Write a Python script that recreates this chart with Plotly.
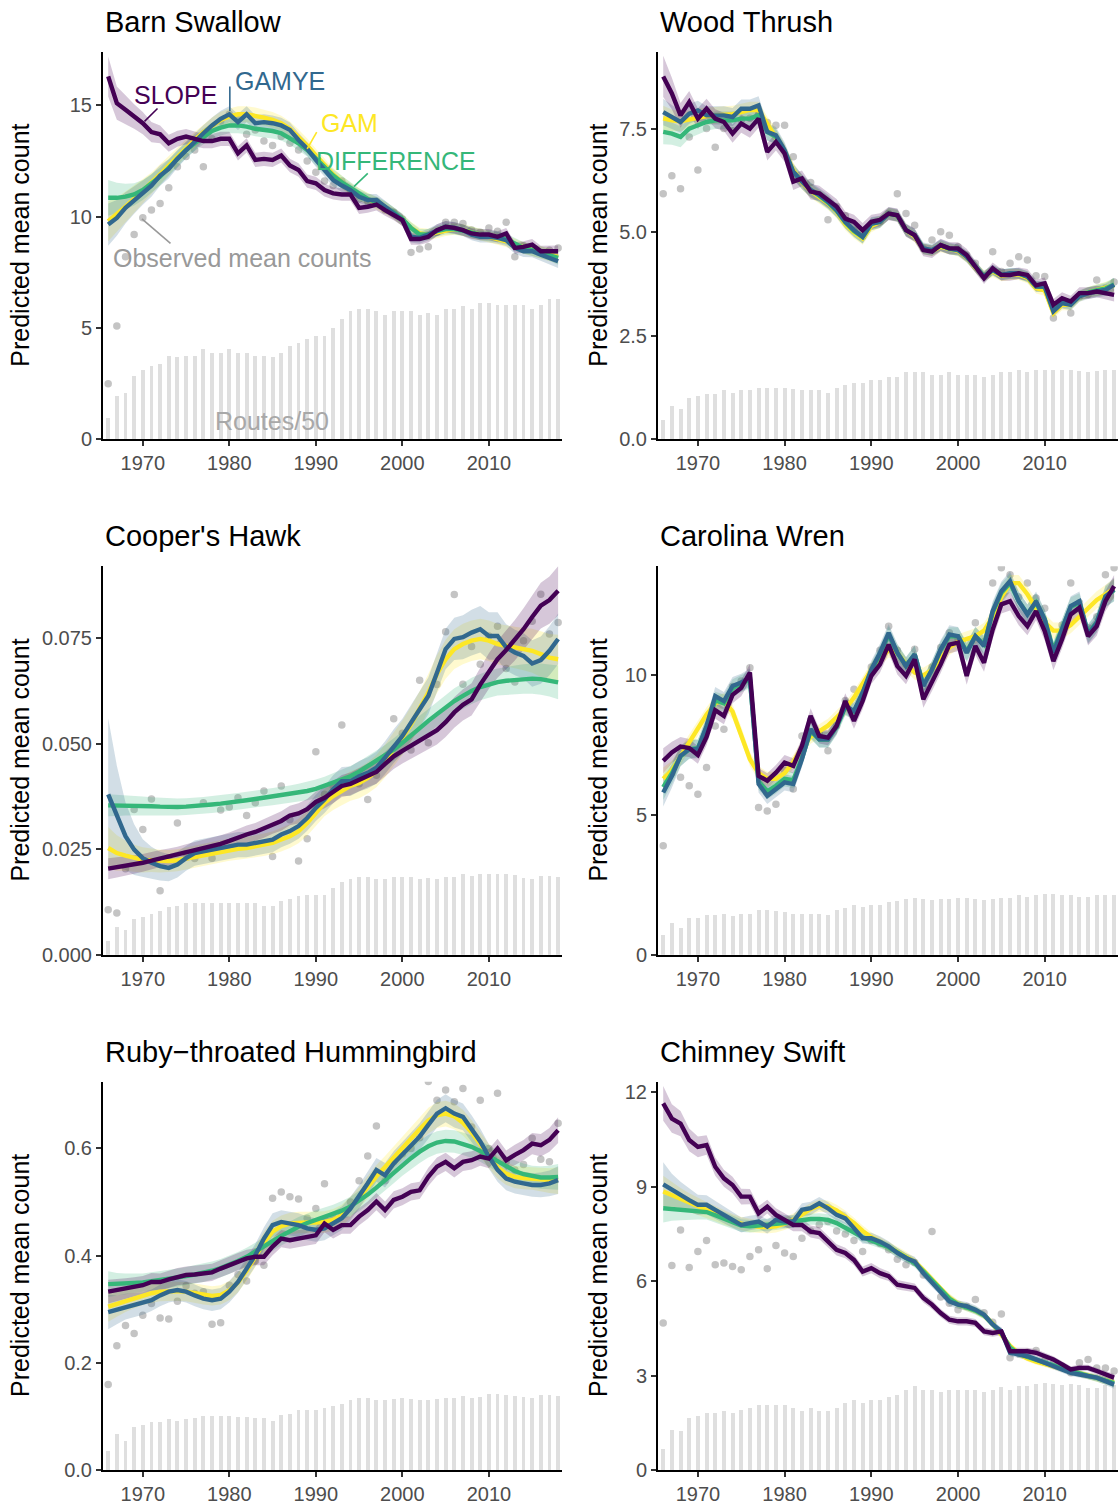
import plotly.graph_objects as go

YEARS = list(range(1966, 2019))

# ---------------- Barn Swallow ----------------
BS_SLOPE = [16.3, 15.1, 14.8, 14.5, 14.2, 13.8, 13.7, 13.3, 13.5, 13.6,
            13.5, 13.4, 13.4, 13.5, 13.5, 12.85, 13.2, 12.55, 12.6, 12.55,
            12.75, 12.3, 12.1, 11.6, 11.5, 11.2, 11.05, 11.0, 11.0, 10.4,
            10.45, 10.55, 10.3, 10.1, 9.85, 9.0, 9.0, 9.1, 9.4, 9.55,
            9.5, 9.4, 9.25, 9.2, 9.2, 9.1, 9.25, 8.6, 8.65, 8.75,
            8.45, 8.45, 8.45]
BS_GAMYE = [9.65, 9.95, 10.4, 10.75, 11.1, 11.4, 11.85, 12.15, 12.6, 13.0,
            13.35, 13.75, 14.1, 14.4, 14.6, 14.25, 14.6, 14.2, 14.25, 14.2,
            14.1, 13.9, 13.45, 13.05, 12.55, 12.1, 11.65, 11.4, 11.2, 10.9,
            10.75, 10.75, 10.45, 10.15, 9.85, 9.1, 9.05, 9.2, 9.4, 9.55,
            9.5, 9.4, 9.2, 9.1, 9.1, 9.05, 8.95, 8.6, 8.45, 8.45,
            8.3, 8.15, 8.0]
BS_GAM = [9.8, 10.1, 10.45, 10.8, 11.15, 11.5, 11.9, 12.3, 12.7, 13.1,
          13.45, 13.8, 14.1, 14.35, 14.5, 14.6, 14.6, 14.55, 14.45, 14.35,
          14.2, 13.95, 13.6, 13.2, 12.75, 12.3, 11.9, 11.55, 11.25, 11.0,
          10.8, 10.6, 10.4, 10.15, 9.85, 9.5, 9.25, 9.2, 9.3, 9.4,
          9.45, 9.4, 9.3, 9.2, 9.1, 9.0, 8.9, 8.75, 8.6, 8.5,
          8.4, 8.3, 8.2]
BS_DIFF = [10.85, 10.85, 10.9, 11.0, 11.2, 11.5, 11.8, 12.2, 12.6, 13.0,
           13.3, 13.6, 13.85, 14.0, 14.1, 14.1, 14.05, 13.95, 13.9, 13.85,
           13.75, 13.55, 13.3, 13.0, 12.6, 12.2, 11.85, 11.55, 11.3, 11.0,
           10.8, 10.65, 10.45, 10.2, 9.9, 9.5, 9.2, 9.2, 9.35, 9.45,
           9.45, 9.4, 9.3, 9.2, 9.15, 9.1, 9.0, 8.8, 8.6, 8.5,
           8.4, 8.3, 8.15]
BS_OBS = [2.5, 5.1, 8.2, 9.2, 9.95, 10.3, 10.6, 11.3, 12.25, 12.7,
          13.0, 12.25, 13.5, 14.3, 14.6, 14.4, 13.7, 13.9, 13.4, 13.2,
          13.6, 13.3, 13.0, 12.5, 12.0, 11.6, 11.4, 11.6, 11.2, 10.8,
          10.7, 10.7, 10.3, 10.2, 9.9, 8.4, 8.55, 8.65, 9.3, 9.75,
          9.75, 9.7, 9.4, 9.3, 9.5, 9.35, 9.75, 8.2, 8.7, 8.6,
          8.4, 8.5, 8.6]
BS_ROUTES = [0.95, 1.95, 2.1, 2.85, 3.1, 3.3, 3.4, 3.75, 3.7, 3.75,
             3.75, 4.05, 3.9, 3.9, 4.05, 3.9, 3.9, 3.75, 3.75, 3.7,
             3.9, 4.2, 4.35, 4.5, 4.65, 4.65, 5.0, 5.4, 5.75, 5.85,
             5.85, 5.75, 5.6, 5.75, 5.75, 5.75, 5.6, 5.7, 5.6, 5.85,
             5.85, 6.0, 5.85, 6.15, 6.15, 6.05, 6.05, 6.05, 6.05, 5.85,
             6.05, 6.3, 6.3]
BS_SLOPE_SE = [0.90, 0.75, 0.65, 0.55, 0.50, 0.45, 0.40, 0.38, 0.36, 0.34,
               0.33, 0.32, 0.32, 0.32, 0.32, 0.32, 0.32, 0.32, 0.32, 0.32,
               0.31, 0.30, 0.30, 0.30, 0.30, 0.29, 0.28, 0.28, 0.28, 0.28,
               0.27, 0.27, 0.26, 0.26, 0.26, 0.26, 0.26, 0.26, 0.26, 0.26,
               0.25, 0.25, 0.25, 0.25, 0.25, 0.25, 0.25, 0.25, 0.25, 0.25,
               0.25, 0.25, 0.26]
BS_GAMYE_SE = [0.95, 0.80, 0.70, 0.62, 0.56, 0.50, 0.46, 0.43, 0.40, 0.38,
               0.37, 0.36, 0.36, 0.36, 0.36, 0.36, 0.36, 0.36, 0.35, 0.35,
               0.34, 0.33, 0.32, 0.31, 0.30, 0.30, 0.29, 0.29, 0.28, 0.28,
               0.27, 0.27, 0.27, 0.26, 0.26, 0.26, 0.26, 0.26, 0.26, 0.26,
               0.26, 0.26, 0.26, 0.26, 0.26, 0.26, 0.26, 0.26, 0.26, 0.27,
               0.28, 0.29, 0.30]
BS_GAM_SE = [0.90, 0.78, 0.68, 0.60, 0.54, 0.49, 0.45, 0.42, 0.40, 0.38,
             0.37, 0.36, 0.36, 0.36, 0.36, 0.36, 0.36, 0.35, 0.35, 0.35,
             0.34, 0.33, 0.32, 0.31, 0.30, 0.30, 0.29, 0.29, 0.28, 0.28,
             0.27, 0.27, 0.27, 0.26, 0.26, 0.26, 0.26, 0.26, 0.26, 0.26,
             0.26, 0.26, 0.26, 0.26, 0.26, 0.26, 0.26, 0.26, 0.26, 0.27,
             0.28, 0.29, 0.30]
BS_DIFF_SE = [0.80, 0.68, 0.58, 0.50, 0.45, 0.42, 0.40, 0.38, 0.37, 0.36,
              0.35, 0.35, 0.35, 0.35, 0.35, 0.35, 0.35, 0.34, 0.34, 0.34,
              0.33, 0.32, 0.31, 0.30, 0.30, 0.29, 0.28, 0.28, 0.27, 0.27,
              0.26, 0.26, 0.26, 0.25, 0.25, 0.25, 0.25, 0.25, 0.25, 0.25,
              0.25, 0.25, 0.25, 0.25, 0.25, 0.25, 0.25, 0.25, 0.25, 0.26,
              0.27, 0.28, 0.30]

# ---------------- Wood Thrush ----------------
WT_SLOPE = [8.76, 8.35, 7.82, 8.14, 7.74, 7.98, 7.74, 7.66, 7.38, 7.62,
            7.5, 7.74, 6.94, 7.18, 6.9, 6.22, 6.3, 5.98, 5.94, 5.78,
            5.62, 5.33, 5.25, 5.05, 5.25, 5.3, 5.45, 5.41, 5.05, 4.93,
            4.57, 4.53, 4.69, 4.61, 4.61, 4.45, 4.17, 3.89, 4.13, 3.97,
            3.97, 4.01, 3.97, 3.72, 3.77, 3.25, 3.41, 3.33, 3.53, 3.53,
            3.57, 3.53, 3.49]
WT_GAMYE = [7.9, 7.78, 7.66, 7.86, 7.94, 7.82, 7.82, 7.82, 7.78, 7.98,
            7.98, 8.06, 7.42, 7.34, 6.98, 6.46, 6.22, 6.02, 5.9, 5.74,
            5.53, 5.25, 5.05, 4.89, 5.21, 5.25, 5.45, 5.41, 5.05, 4.93,
            4.61, 4.57, 4.69, 4.61, 4.57, 4.41, 4.17, 3.93, 4.09, 3.97,
            4.01, 4.01, 3.93, 3.69, 3.69, 3.09, 3.29, 3.25, 3.45, 3.53,
            3.57, 3.61, 3.73]
WT_GAM = [7.75, 7.7, 7.68, 7.72, 7.78, 7.8, 7.82, 7.84, 7.85, 7.9,
          7.95, 7.95, 7.6, 7.3, 6.95, 6.5, 6.2, 6.0, 5.85, 5.7,
          5.5, 5.2, 5.0, 4.85, 5.15, 5.25, 5.45, 5.4, 5.05, 4.9,
          4.6, 4.55, 4.65, 4.6, 4.55, 4.4, 4.15, 3.95, 4.05, 3.95,
          3.98, 3.98, 3.9, 3.65, 3.6, 3.05, 3.25, 3.25, 3.45, 3.55,
          3.6, 3.65, 3.72]
WT_DIFF = [7.42, 7.38, 7.3, 7.5, 7.58, 7.66, 7.7, 7.7, 7.7, 7.74,
           7.74, 7.82, 7.42, 7.3, 6.95, 6.45, 6.22, 6.02, 5.88, 5.72,
           5.52, 5.24, 5.03, 4.88, 5.2, 5.25, 5.45, 5.4, 5.05, 4.93,
           4.6, 4.56, 4.68, 4.6, 4.57, 4.42, 4.17, 3.94, 4.08, 3.97,
           4.0, 4.0, 3.93, 3.7, 3.68, 3.12, 3.3, 3.27, 3.47, 3.55,
           3.6, 3.64, 3.74]
WT_OBS = [5.93, 6.36, 6.05, 7.3, 6.5, 7.5, 7.05, 7.5, 7.45, 7.7,
          7.75, 7.85, 7.65, 7.58, 7.58, 6.82, 6.25, 6.2, 5.9, 5.3,
          5.62, 5.4, 5.05, 4.9, 5.2, 5.25, 5.45, 5.93, 5.45, 5.17,
          4.6, 4.81, 5.01, 4.93, 4.65, 4.45, 4.25, 3.95, 4.53, 4.05,
          4.25, 4.41, 4.33, 3.95, 3.93, 2.93, 3.35, 3.05, 3.45, 3.5,
          3.85, 3.65, 3.8]
WT_ROUTES = [0.48, 0.82, 0.74, 1.0, 1.04, 1.1, 1.1, 1.19, 1.12, 1.19,
             1.2, 1.24, 1.24, 1.24, 1.24, 1.22, 1.19, 1.19, 1.19, 1.12,
             1.24, 1.32, 1.36, 1.36, 1.44, 1.44, 1.51, 1.51, 1.64, 1.64,
             1.64, 1.56, 1.56, 1.64, 1.56, 1.56, 1.56, 1.52, 1.56, 1.64,
             1.64, 1.68, 1.64, 1.68, 1.68, 1.68, 1.68, 1.68, 1.66, 1.64,
             1.66, 1.68, 1.68]
WT_SLOPE_SE = [0.50, 0.38, 0.30, 0.27, 0.25, 0.24, 0.23, 0.22, 0.22, 0.22,
               0.22, 0.22, 0.21, 0.21, 0.20, 0.20, 0.19, 0.19, 0.18, 0.18,
               0.18, 0.17, 0.17, 0.17, 0.17, 0.16, 0.16, 0.16, 0.16, 0.16,
               0.15, 0.15, 0.15, 0.15, 0.15, 0.15, 0.14, 0.14, 0.14, 0.14,
               0.14, 0.14, 0.14, 0.14, 0.14, 0.14, 0.14, 0.14, 0.14, 0.14,
               0.14, 0.15, 0.16]
WT_GAMYE_SE = [0.32, 0.28, 0.26, 0.24, 0.23, 0.22, 0.22, 0.22, 0.22, 0.22,
               0.22, 0.22, 0.21, 0.20, 0.19, 0.19, 0.18, 0.18, 0.17, 0.17,
               0.17, 0.16, 0.16, 0.16, 0.16, 0.15, 0.15, 0.15, 0.15, 0.15,
               0.14, 0.14, 0.14, 0.14, 0.14, 0.14, 0.13, 0.13, 0.13, 0.13,
               0.13, 0.13, 0.13, 0.13, 0.13, 0.13, 0.13, 0.13, 0.13, 0.14,
               0.14, 0.15, 0.16]
WT_GAM_SE = [0.30, 0.26, 0.24, 0.22, 0.21, 0.20, 0.20, 0.20, 0.20, 0.20,
             0.20, 0.20, 0.19, 0.19, 0.18, 0.18, 0.17, 0.17, 0.16, 0.16,
             0.16, 0.15, 0.15, 0.15, 0.15, 0.14, 0.14, 0.14, 0.14, 0.14,
             0.13, 0.13, 0.13, 0.13, 0.13, 0.13, 0.13, 0.13, 0.13, 0.13,
             0.13, 0.13, 0.13, 0.13, 0.13, 0.13, 0.13, 0.13, 0.13, 0.13,
             0.14, 0.15, 0.16]
WT_DIFF_SE = [0.30, 0.27, 0.25, 0.23, 0.22, 0.21, 0.21, 0.21, 0.21, 0.21,
              0.21, 0.21, 0.20, 0.19, 0.18, 0.18, 0.17, 0.17, 0.16, 0.16,
              0.16, 0.15, 0.15, 0.15, 0.15, 0.14, 0.14, 0.14, 0.14, 0.14,
              0.13, 0.13, 0.13, 0.13, 0.13, 0.13, 0.13, 0.13, 0.13, 0.13,
              0.13, 0.13, 0.13, 0.13, 0.13, 0.13, 0.13, 0.13, 0.13, 0.13,
              0.14, 0.15, 0.16]

# ---------------- Cooper's Hawk ----------------
CH_SLOPE = [.0204, .0207, .0210, .0214, .0218, .0223, .0228, .0232, .0236, .0242,
            .0247, .0252, .0257, .0263, .0270, .0278, .0285, .0291, .0299, .0309,
            .0317, .0330, .0335, .0345, .0362, .0372, .0385, .0400, .0405, .0415,
            .0425, .0433, .0452, .0470, .0483, .0495, .0508, .0520, .0532, .0551,
            .0574, .0592, .0605, .0640, .0672, .0700, .0722, .0745, .0771, .0800,
            .0827, .0840, .0862]
CH_GAMYE = [.0380, .0328, .0281, .0249, .0229, .0218, .0210, .0206, .0214, .0229,
            .0241, .0245, .0249, .0253, .0257, .0261, .0261, .0265, .0269, .0273,
            .0285, .0293, .0305, .0324, .0348, .0368, .0392, .0411, .0411, .0423,
            .0431, .0443, .0467, .0494, .0518, .0550, .0581, .0613, .0668, .0724,
            .0748, .0752, .0763, .0771, .0755, .0755, .0728, .0716, .0708, .0690,
            .0698, .0720, .0748]
CH_GAM = [.0253, .0241, .0235, .0229, .0225, .0224, .0222, .0222, .0224, .0228,
          .0233, .0237, .0241, .0245, .0249, .0251, .0253, .0257, .0261, .0265,
          .0273, .0281, .0293, .0312, .0336, .0360, .0376, .0388, .0400, .0407,
          .0419, .0435, .0459, .0487, .0514, .0546, .0581, .0621, .0665, .0700,
          .0724, .0736, .0744, .0748, .0744, .0736, .0732, .0728, .0724, .0720,
          .0712, .0704, .0700]
CH_DIFF = [.0354, .0354, .0354, .0354, .0353, .0352, .0351, .0350, .0350, .0351,
           .0352, .0354, .0356, .0358, .0360, .0363, .0366, .0369, .0372, .0374,
           .0377, .0380, .0384, .0388, .0393, .0400, .0407, .0415, .0423, .0434,
           .0447, .0459, .0471, .0486, .0502, .0520, .0538, .0554, .0570, .0586,
           .0601, .0613, .0625, .0634, .0641, .0646, .0649, .0651, .0653, .0654,
           .0653, .0650, .0645]
CH_OBS = [.0107, .0099, .0204, .0344, .0297, .0369, .0152, .0230, .0312, .0240,
          .0228, .0360, .0229, .0343, .0350, .0372, .0330, .0360, .0388, .0233,
          .0400, .0320, .0222, .0275, .0481, .0380, .0400, .0544, .0415, .0405,
          .0368, .0425, .0465, .0559, .0525, .0485, .0650, .0502, .0640, .0765,
          .0853, .0641, .0730, .0688, .0755, .0778, .0678, .0646, .0744, .0790,
          .0854, .0760, .0787]
CH_ROUTES = [.0032, .0066, .0059, .0083, .0089, .0095, .0103, .0112, .0115, .0121,
             .0121, .0121, .0121, .0121, .0121, .0121, .0121, .0121, .0115, .0115,
             .0127, .0132, .0138, .0140, .0142, .0142, .0158, .0172, .0180, .0184,
             .0184, .0178, .0178, .0184, .0184, .0184, .0178, .0181, .0180, .0184,
             .0184, .0190, .0186, .0190, .0190, .0190, .0190, .0188, .0182, .0180,
             .0186, .0186, .0184]
CH_SLOPE_SE = [.0025, .0024, .0023, .0022, .0021, .0021, .0020, .0020, .0020, .0020,
               .0020, .0020, .0020, .0020, .0020, .0020, .0021, .0021, .0022, .0022,
               .0023, .0023, .0024, .0024, .0025, .0025, .0026, .0026, .0027, .0027,
               .0028, .0028, .0029, .0030, .0030, .0031, .0032, .0033, .0034, .0035,
               .0036, .0037, .0038, .0040, .0042, .0044, .0046, .0048, .0050, .0052,
               .0054, .0056, .0058]
CH_GAMYE_SE = [.0180, .0120, .0080, .0060, .0045, .0038, .0034, .0032, .0031, .0030,
               .0030, .0030, .0030, .0030, .0030, .0030, .0030, .0030, .0030, .0030,
               .0030, .0030, .0030, .0030, .0031, .0032, .0033, .0034, .0035, .0036,
               .0037, .0038, .0039, .0040, .0041, .0042, .0043, .0044, .0046, .0048,
               .0050, .0052, .0054, .0055, .0056, .0056, .0055, .0054, .0054, .0055,
               .0056, .0058, .0060]
CH_GAM_SE = [.0050, .0042, .0036, .0032, .0030, .0028, .0027, .0026, .0026, .0026,
             .0026, .0026, .0026, .0026, .0026, .0026, .0026, .0026, .0027, .0027,
             .0028, .0028, .0029, .0030, .0031, .0032, .0033, .0034, .0035, .0036,
             .0037, .0038, .0039, .0040, .0041, .0042, .0043, .0044, .0045, .0046,
             .0047, .0048, .0048, .0048, .0048, .0048, .0048, .0049, .0050, .0052,
             .0054, .0056, .0058]
CH_DIFF_SE = [.0026, .0025, .0024, .0023, .0022, .0021, .0021, .0020, .0020, .0020,
              .0020, .0020, .0020, .0020, .0020, .0020, .0020, .0020, .0020, .0020,
              .0021, .0021, .0021, .0022, .0022, .0022, .0023, .0023, .0024, .0024,
              .0025, .0025, .0026, .0026, .0027, .0027, .0028, .0028, .0029, .0029,
              .0030, .0030, .0031, .0031, .0032, .0032, .0033, .0034, .0035, .0036,
              .0037, .0038, .0040]

# ---------------- Carolina Wren ----------------
CW_SLOPE = [6.94, 7.24, 7.45, 7.4, 7.15, 7.8, 8.75, 8.55, 9.3, 9.55,
            10.1, 6.4, 6.23, 6.52, 6.88, 6.76, 7.48, 8.55, 7.83, 7.77,
            8.19, 9.08, 8.37, 9.08, 9.98, 10.39, 11.1, 10.33, 9.98, 10.57,
            9.14, 9.74, 10.39, 11.1, 11.17, 9.98, 11.05, 10.45, 11.64, 12.54,
            12.65, 12.12, 11.76, 12.3, 11.58, 10.51, 11.29, 12.18, 12.42, 11.4,
            11.76, 12.65, 13.19]
CW_GAMYE = [5.81, 6.4, 7.12, 7.36, 7.36, 8.19, 9.26, 9.08, 9.62, 9.74,
            9.92, 6.11, 5.69, 5.93, 6.17, 6.11, 7.0, 8.07, 7.71, 7.71,
            8.19, 8.9, 8.73, 9.38, 10.21, 10.81, 11.52, 10.81, 10.33, 10.75,
            9.62, 10.21, 10.93, 11.46, 11.4, 10.81, 11.4, 11.05, 12.3, 13.01,
            13.37, 12.65, 12.18, 12.65, 12.0, 10.81, 11.64, 12.48, 12.65, 11.46,
            11.88, 12.83, 13.07]
CW_GAM = [6.3, 6.6, 7.1, 7.6, 8.1, 8.6, 9.0, 9.1, 8.7, 7.9,
          7.0, 6.5, 6.3, 6.3, 6.5, 6.9, 7.4, 7.8, 8.0, 8.2,
          8.5, 8.8, 9.2, 9.7, 10.2, 10.6, 10.9, 10.8, 10.4, 10.1,
          10.0, 10.2, 10.6, 11.0, 11.2, 11.3, 11.4, 11.6, 12.1, 12.8,
          13.3, 13.3, 12.9, 12.4, 11.9, 11.6, 11.6, 11.8, 12.1, 12.4,
          12.7, 12.9, 13.1]
CW_DIFF = [6.0, 6.5, 7.1, 7.35, 7.4, 8.15, 9.1, 9.0, 9.55, 9.7,
           9.85, 6.2, 5.85, 6.05, 6.3, 6.25, 7.05, 8.0, 7.7, 7.7,
           8.15, 8.85, 8.7, 9.35, 10.15, 10.75, 11.45, 10.8, 10.35, 10.75,
           9.65, 10.2, 10.9, 11.4, 11.4, 10.85, 11.4, 11.1, 12.25, 12.95,
           13.3, 12.65, 12.2, 12.6, 12.0, 10.9, 11.65, 12.45, 12.6, 11.5,
           11.9, 12.8, 13.05]
CW_OBS = [3.9, 6.5, 6.35, 6.05, 5.75, 6.7, 8.19, 8.07, 9.6, 9.8,
          10.27, 5.27, 5.15, 5.39, 6.6, 5.93, 7.83, 8.4, 7.9, 7.3,
          8.2, 9.1, 9.5, 9.4, 10.3, 10.9, 11.76, 10.9, 10.4, 10.93,
          9.6, 10.3, 11.0, 11.52, 11.3, 10.9, 11.88, 11.2, 13.3, 13.85,
          13.6, 12.8, 13.3, 12.77, 12.4, 11.0, 11.8, 13.3, 12.6, 11.7,
          12.1, 13.6, 13.85]
CW_ROUTES = [0.7, 1.13, 0.95, 1.29, 1.31, 1.4, 1.4, 1.46, 1.38, 1.46,
             1.46, 1.58, 1.58, 1.55, 1.52, 1.46, 1.46, 1.46, 1.46, 1.4,
             1.58, 1.67, 1.76, 1.7, 1.76, 1.79, 1.88, 1.9, 2.0, 2.02,
             2.0, 1.94, 1.98, 2.0, 2.02, 2.02, 2.0, 1.94, 2.0, 2.02,
             2.02, 2.12, 2.06, 2.14, 2.18, 2.18, 2.14, 2.12, 2.06, 2.06,
             2.12, 2.14, 2.14]
CW_SLOPE_SE = [0.45, 0.38, 0.34, 0.32, 0.31, 0.30, 0.30, 0.30, 0.30, 0.30,
               0.30, 0.28, 0.27, 0.27, 0.27, 0.27, 0.27, 0.27, 0.27, 0.27,
               0.28, 0.28, 0.28, 0.29, 0.29, 0.30, 0.30, 0.30, 0.30, 0.30,
               0.30, 0.30, 0.31, 0.31, 0.31, 0.32, 0.32, 0.32, 0.33, 0.33,
               0.33, 0.33, 0.33, 0.33, 0.33, 0.33, 0.33, 0.33, 0.33, 0.33,
               0.34, 0.36, 0.40]
CW_GAMYE_SE = [0.50, 0.42, 0.37, 0.34, 0.33, 0.32, 0.32, 0.32, 0.32, 0.32,
               0.32, 0.30, 0.29, 0.29, 0.29, 0.29, 0.29, 0.29, 0.29, 0.29,
               0.30, 0.30, 0.30, 0.31, 0.31, 0.32, 0.32, 0.32, 0.32, 0.32,
               0.32, 0.32, 0.33, 0.33, 0.33, 0.34, 0.34, 0.34, 0.35, 0.35,
               0.35, 0.35, 0.35, 0.35, 0.35, 0.35, 0.35, 0.35, 0.35, 0.35,
               0.36, 0.38, 0.42]
CW_GAM_SE = [0.40, 0.34, 0.30, 0.28, 0.27, 0.26, 0.26, 0.26, 0.26, 0.26,
             0.25, 0.25, 0.25, 0.25, 0.25, 0.25, 0.25, 0.25, 0.25, 0.25,
             0.25, 0.25, 0.25, 0.26, 0.26, 0.26, 0.26, 0.26, 0.26, 0.26,
             0.27, 0.27, 0.27, 0.27, 0.27, 0.28, 0.28, 0.28, 0.28, 0.28,
             0.29, 0.29, 0.29, 0.29, 0.29, 0.29, 0.29, 0.29, 0.29, 0.30,
             0.31, 0.33, 0.36]
CW_DIFF_SE = [0.46, 0.40, 0.35, 0.33, 0.32, 0.31, 0.31, 0.31, 0.31, 0.31,
              0.31, 0.29, 0.28, 0.28, 0.28, 0.28, 0.28, 0.28, 0.28, 0.28,
              0.29, 0.29, 0.29, 0.30, 0.30, 0.31, 0.31, 0.31, 0.31, 0.31,
              0.31, 0.31, 0.32, 0.32, 0.32, 0.33, 0.33, 0.33, 0.34, 0.34,
              0.34, 0.34, 0.34, 0.34, 0.34, 0.34, 0.34, 0.34, 0.34, 0.34,
              0.35, 0.37, 0.40]

# ---------------- Ruby-throated Hummingbird ----------------
RH_SLOPE = [.333, .336, .339, .342, .345, .351, .351, .356, .361, .364,
            .365, .367, .369, .376, .382, .389, .395, .398, .398, .417,
            .432, .429, .432, .435, .438, .460, .448, .457, .457, .473,
            .485, .501, .485, .504, .510, .519, .522, .547, .566, .575,
            .563, .575, .578, .585, .581, .600, .578, .588, .597, .609,
            .606, .616, .634]
RH_GAMYE = [.295, .299, .305, .308, .311, .317, .326, .333, .336, .333,
            .326, .320, .317, .320, .333, .351, .376, .401, .432, .457,
            .463, .460, .457, .451, .448, .451, .460, .470, .488, .510,
            .535, .560, .550, .572, .588, .606, .622, .644, .665, .675,
            .665, .659, .637, .613, .585, .560, .544, .538, .535, .532,
            .532, .535, .541]
RH_GAM = [.305, .310, .316, .322, .327, .330, .333, .334, .334, .333,
          .330, .327, .325, .327, .335, .350, .372, .398, .425, .445,
          .455, .460, .462, .462, .462, .463, .467, .475, .490, .508,
          .528, .548, .565, .582, .600, .618, .636, .652, .662, .665,
          .660, .648, .630, .608, .585, .565, .553, .547, .545, .544,
          .542, .540, .540]
RH_DIFF = [.347, .347, .348, .349, .350, .352, .354, .356, .359, .362,
           .365, .368, .372, .377, .383, .390, .398, .407, .417, .427,
           .437, .446, .454, .461, .467, .472, .477, .484, .492, .502,
           .514, .527, .541, .555, .569, .582, .594, .604, .611, .614,
           .613, .609, .603, .595, .586, .576, .566, .558, .552, .548,
           .546, .546, .547]
RH_OBS = [.160, .232, .270, .255, .289, .311, .284, .282, .315, .344,
          .330, .333, .272, .275, .345, .365, .353, .390, .382, .507,
          .519, .510, .506, .470, .488, .534, .470, .480, .500, .540,
          .586, .642, .540, .575, .590, .600, .620, .725, .690, .709,
          .687, .712, .640, .690, .600, .703, .575, .560, .570, .619,
          .580, .575, .647]
RH_ROUTES = [.037, .068, .056, .081, .084, .090, .090, .096, .093, .096,
             .098, .101, .101, .101, .101, .099, .099, .098, .098, .093,
             .103, .106, .112, .112, .112, .116, .121, .124, .131, .135,
             .135, .131, .131, .134, .135, .134, .131, .131, .134, .135,
             .135, .139, .135, .137, .143, .143, .140, .139, .137, .135,
             .141, .140, .139]
RH_SLOPE_SE = [.022, .020, .019, .018, .017, .017, .016, .016, .016, .016,
               .016, .016, .016, .016, .016, .016, .016, .016, .016, .016,
               .016, .016, .016, .016, .016, .016, .016, .016, .016, .016,
               .016, .016, .016, .016, .016, .016, .016, .017, .017, .017,
               .017, .017, .017, .017, .018, .018, .018, .019, .019, .020,
               .021, .022, .024]
RH_GAMYE_SE = [.032, .027, .024, .022, .021, .020, .020, .020, .020, .020,
               .020, .020, .020, .020, .020, .020, .020, .021, .021, .022,
               .022, .022, .022, .022, .022, .022, .022, .022, .022, .022,
               .022, .022, .023, .023, .024, .024, .025, .025, .026, .026,
               .026, .025, .025, .024, .023, .022, .022, .022, .022, .022,
               .023, .024, .026]
RH_GAM_SE = [.028, .024, .021, .020, .019, .018, .018, .018, .018, .018,
             .018, .018, .018, .018, .018, .018, .019, .019, .020, .020,
             .020, .020, .020, .020, .020, .020, .020, .020, .020, .020,
             .021, .021, .021, .022, .022, .023, .023, .024, .024, .024,
             .024, .024, .023, .023, .022, .021, .021, .021, .021, .021,
             .022, .023, .025]
RH_DIFF_SE = [.024, .021, .019, .018, .017, .017, .017, .017, .017, .017,
              .017, .017, .017, .017, .017, .017, .017, .017, .018, .018,
              .018, .018, .018, .018, .018, .018, .018, .018, .018, .019,
              .019, .019, .020, .020, .020, .021, .021, .021, .021, .021,
              .021, .021, .021, .020, .020, .020, .020, .020, .020, .020,
              .021, .022, .024]

# ---------------- Chimney Swift ----------------
CS_SLOPE = [11.65, 11.17, 11.01, 10.49, 10.27, 10.33, 9.64, 9.27, 9.06, 8.69,
            8.69, 8.16, 8.37, 8.11, 7.95, 7.79, 7.79, 7.58, 7.53, 7.26,
            7.0, 6.9, 6.68, 6.31, 6.42, 6.26, 6.16, 5.89, 5.84, 5.79,
            5.47, 5.26, 4.99, 4.78, 4.73, 4.73, 4.68, 4.41, 4.36, 4.41,
            3.78, 3.78, 3.78, 3.73, 3.62, 3.52, 3.36, 3.2, 3.25, 3.25,
            3.15, 3.04, 2.94]
CS_GAMYE = [9.08, 8.9, 8.74, 8.58, 8.43, 8.43, 8.27, 8.11, 7.95, 7.79,
            7.85, 7.9, 7.74, 7.95, 7.9, 7.9, 8.27, 8.32, 8.48, 8.32,
            8.11, 8.0, 7.69, 7.37, 7.37, 7.26, 7.11, 6.9, 6.74, 6.63,
            6.26, 5.95, 5.68, 5.36, 5.26, 5.21, 5.1, 4.94, 4.63, 4.41,
            3.73, 3.67, 3.62, 3.52, 3.41, 3.31, 3.2, 3.09, 3.04, 2.99,
            2.94, 2.83, 2.72]
CS_GAM = [8.85, 8.75, 8.62, 8.5, 8.38, 8.27, 8.15, 8.03, 7.92, 7.83,
          7.77, 7.73, 7.72, 7.75, 7.83, 7.95, 8.12, 8.3, 8.4, 8.38,
          8.25, 8.07, 7.85, 7.6, 7.4, 7.25, 7.1, 6.95, 6.8, 6.62,
          6.35, 6.05, 5.75, 5.48, 5.28, 5.17, 5.07, 4.92, 4.65, 4.3,
          3.95, 3.7, 3.55, 3.45, 3.38, 3.3, 3.22, 3.14, 3.07, 3.0,
          2.93, 2.85, 2.78]
CS_DIFF = [8.32, 8.3, 8.27, 8.25, 8.22, 8.2, 8.1, 8.0, 7.88, 7.77,
           7.75, 7.77, 7.8, 7.82, 7.85, 7.9, 7.95, 7.98, 7.98, 7.95,
           7.85, 7.7, 7.55, 7.4, 7.3, 7.2, 7.08, 6.92, 6.75, 6.58,
           6.32, 6.02, 5.72, 5.45, 5.27, 5.17, 5.07, 4.92, 4.65, 4.35,
           3.9, 3.7, 3.6, 3.5, 3.42, 3.33, 3.24, 3.15, 3.08, 3.0,
           2.93, 2.85, 2.77]
CS_OBS = [4.68, 6.5, 7.63, 6.44, 6.95, 7.3, 6.53, 6.58, 6.47, 6.37,
          6.79, 7.0, 6.4, 7.14, 6.9, 6.79, 7.37, 7.6, 7.8, 7.9,
          7.6, 7.5, 7.3, 6.95, 7.3, 7.2, 7.0, 6.7, 6.53, 6.6,
          6.2, 7.58, 5.5, 5.3, 5.1, 5.2, 5.42, 5.0, 4.7, 4.96,
          3.57, 3.7, 3.75, 3.8, 3.5, 3.4, 3.3, 3.1, 3.41, 3.52,
          3.25, 3.25, 3.15]
CS_ROUTES = [0.67, 1.3, 1.25, 1.67, 1.72, 1.83, 1.83, 1.9, 1.83, 1.91,
             1.99, 2.09, 2.09, 2.09, 2.09, 1.99, 1.9, 1.99, 1.9, 1.9,
             1.99, 2.14, 2.25, 2.14, 2.25, 2.25, 2.32, 2.41, 2.57, 2.67,
             2.57, 2.57, 2.5, 2.57, 2.57, 2.57, 2.57, 2.5, 2.57, 2.64,
             2.57, 2.67, 2.67, 2.75, 2.78, 2.75, 2.71, 2.75, 2.71, 2.63,
             2.63, 2.71, 2.71]
CS_SLOPE_SE = [0.55, 0.45, 0.40, 0.36, 0.33, 0.31, 0.29, 0.27, 0.26, 0.25,
               0.24, 0.23, 0.22, 0.21, 0.21, 0.20, 0.20, 0.19, 0.19, 0.18,
               0.18, 0.17, 0.17, 0.16, 0.16, 0.16, 0.15, 0.15, 0.15, 0.14,
               0.14, 0.14, 0.13, 0.13, 0.13, 0.13, 0.12, 0.12, 0.12, 0.12,
               0.11, 0.11, 0.11, 0.11, 0.10, 0.10, 0.10, 0.10, 0.10, 0.10,
               0.10, 0.11, 0.12]
CS_GAMYE_SE = [0.70, 0.52, 0.42, 0.36, 0.32, 0.30, 0.28, 0.26, 0.25, 0.24,
               0.23, 0.22, 0.22, 0.21, 0.21, 0.21, 0.21, 0.21, 0.20, 0.20,
               0.19, 0.19, 0.18, 0.18, 0.17, 0.17, 0.16, 0.16, 0.15, 0.15,
               0.15, 0.14, 0.14, 0.14, 0.13, 0.13, 0.13, 0.12, 0.12, 0.12,
               0.11, 0.11, 0.11, 0.11, 0.10, 0.10, 0.10, 0.10, 0.10, 0.10,
               0.11, 0.12, 0.13]
CS_GAM_SE = [0.50, 0.40, 0.34, 0.30, 0.27, 0.25, 0.24, 0.23, 0.22, 0.21,
             0.21, 0.20, 0.20, 0.20, 0.20, 0.20, 0.20, 0.19, 0.19, 0.19,
             0.18, 0.18, 0.17, 0.17, 0.16, 0.16, 0.15, 0.15, 0.15, 0.14,
             0.14, 0.14, 0.13, 0.13, 0.13, 0.12, 0.12, 0.12, 0.12, 0.11,
             0.11, 0.11, 0.10, 0.10, 0.10, 0.10, 0.10, 0.10, 0.10, 0.10,
             0.11, 0.12, 0.13]
CS_DIFF_SE = [0.45, 0.38, 0.33, 0.29, 0.26, 0.24, 0.23, 0.22, 0.21, 0.20,
              0.20, 0.19, 0.19, 0.19, 0.19, 0.19, 0.19, 0.18, 0.18, 0.18,
              0.17, 0.17, 0.16, 0.16, 0.16, 0.15, 0.15, 0.15, 0.14, 0.14,
              0.14, 0.13, 0.13, 0.13, 0.12, 0.12, 0.12, 0.12, 0.11, 0.11,
              0.11, 0.11, 0.10, 0.10, 0.10, 0.10, 0.10, 0.10, 0.10, 0.10,
              0.11, 0.12, 0.13]

# ---------------- axis settings ----------------
TITLES = ["Barn Swallow", "Wood Thrush", "Cooper's Hawk", "Carolina Wren",
          "Ruby\u2212throated Hummingbird", "Chimney Swift"]
Y_MAX = [17.4, 9.35, 0.0920, 13.9, 0.7245, 12.34]
Y_TICKS = [[0, 5, 10, 15], [0, 2.5, 5, 7.5], [0, 0.025, 0.05, 0.075],
           [0, 5, 10], [0, 0.2, 0.4, 0.6], [0, 3, 6, 9, 12]]
Y_TICKTEXT = [["0", "5", "10", "15"], ["0.0", "2.5", "5.0", "7.5"],
              ["0.000", "0.025", "0.050", "0.075"], ["0", "5", "10"],
              ["0.0", "0.2", "0.4", "0.6"], ["0", "3", "6", "9", "12"]]
X_TICKS = [1970, 1980, 1990, 2000, 2010]

PANELS = [
    dict(SLOPE=(BS_SLOPE, BS_SLOPE_SE), GAMYE=(BS_GAMYE, BS_GAMYE_SE), GAM=(BS_GAM, BS_GAM_SE),
         DIFFERENCE=(BS_DIFF, BS_DIFF_SE), obs=BS_OBS, routes=BS_ROUTES),
    dict(SLOPE=(WT_SLOPE, WT_SLOPE_SE), GAMYE=(WT_GAMYE, WT_GAMYE_SE), GAM=(WT_GAM, WT_GAM_SE),
         DIFFERENCE=(WT_DIFF, WT_DIFF_SE), obs=WT_OBS, routes=WT_ROUTES),
    dict(SLOPE=(CH_SLOPE, CH_SLOPE_SE), GAMYE=(CH_GAMYE, CH_GAMYE_SE), GAM=(CH_GAM, CH_GAM_SE),
         DIFFERENCE=(CH_DIFF, CH_DIFF_SE), obs=CH_OBS, routes=CH_ROUTES),
    dict(SLOPE=(CW_SLOPE, CW_SLOPE_SE), GAMYE=(CW_GAMYE, CW_GAMYE_SE), GAM=(CW_GAM, CW_GAM_SE),
         DIFFERENCE=(CW_DIFF, CW_DIFF_SE), obs=CW_OBS, routes=CW_ROUTES),
    dict(SLOPE=(RH_SLOPE, RH_SLOPE_SE), GAMYE=(RH_GAMYE, RH_GAMYE_SE), GAM=(RH_GAM, RH_GAM_SE),
         DIFFERENCE=(RH_DIFF, RH_DIFF_SE), obs=RH_OBS, routes=RH_ROUTES),
    dict(SLOPE=(CS_SLOPE, CS_SLOPE_SE), GAMYE=(CS_GAMYE, CS_GAMYE_SE), GAM=(CS_GAM, CS_GAM_SE),
         DIFFERENCE=(CS_DIFF, CS_DIFF_SE), obs=CS_OBS, routes=CS_ROUTES),
]

COLORS = {"SLOPE": "#440154", "GAMYE": "#31688E", "GAM": "#FDE725", "DIFFERENCE": "#35B779"}
ORDER = ["GAM", "DIFFERENCE", "GAMYE", "SLOPE"]

for p in PANELS:
    for k in ORDER:
        assert len(p[k][0]) == 53 and len(p[k][1]) == 53, (k, len(p[k][0]), len(p[k][1]))
    assert len(p["obs"]) == 53 and len(p["routes"]) == 53, (len(p["obs"]), len(p["routes"]))

W, H = 1118, 1505
VS = 1.0075  # small vertical correction
COL_X = [(103, 562), (658, 1118)]
ROW_Y = [(52, 440), (567, 956), (1083, 1472)]
XRANGE = [1965.4, 2018.45]
FONT = "Liberation Sans, Arial, Helvetica, sans-serif"


def py(v):
    return 1 - (v * VS) / H


def rgba(hexc, a):
    h = hexc.lstrip("#")
    return "rgba(%d,%d,%d,%.2f)" % (int(h[0:2], 16), int(h[2:4], 16), int(h[4:6], 16), a)


fig = go.Figure()
annotations = []
shapes = []

for i, p in enumerate(PANELS):
    r, c = divmod(i, 2)
    xa = "x" if i == 0 else "x%d" % (i + 1)
    ya = "y" if i == 0 else "y%d" % (i + 1)
    common = dict(xaxis=xa, yaxis=ya, showlegend=False, hoverinfo="skip")

    fig.add_trace(go.Bar(x=YEARS, y=p["routes"], width=0.45,
                         marker=dict(color="#dfdfdf", line=dict(width=0)), **common))
    fig.add_trace(go.Scatter(x=YEARS, y=p["obs"], mode="markers",
                             marker=dict(size=7.5, color="#c4c4c4", line=dict(width=0)), **common))
    for k in ORDER:
        vals, se = p[k]
        up = [v + s for v, s in zip(vals, se)]
        lo = [v - s for v, s in zip(vals, se)]
        fig.add_trace(go.Scatter(x=YEARS + YEARS[::-1], y=up + lo[::-1], mode="lines",
                                 fill="toself", fillcolor=rgba(COLORS[k], 0.22),
                                 line=dict(width=0), **common))
    for k in ORDER:
        fig.add_trace(go.Scatter(x=YEARS, y=p[k][0], mode="lines",
                                 line=dict(color=COLORS[k], width=4.4), **common))

    xd = [COL_X[c][0] / W, min(COL_X[c][1] / W, 1.0)]
    yd = [py(ROW_Y[r][1]), py(ROW_Y[r][0])]
    axis_common = dict(showline=True, linecolor="black", linewidth=2, ticks="outside",
                       ticklen=5, tickwidth=1.5, tickcolor="#333333", showgrid=False,
                       zeroline=False, tickfont=dict(size=20, color="#4d4d4d", family=FONT),
                       fixedrange=True)
    xkey = "xaxis" if i == 0 else "xaxis%d" % (i + 1)
    ykey = "yaxis" if i == 0 else "yaxis%d" % (i + 1)
    fig.update_layout(**{
        xkey: dict(domain=xd, anchor=ya, range=XRANGE, tickmode="array",
                   tickvals=X_TICKS, ticktext=[str(t) for t in X_TICKS], **axis_common),
        ykey: dict(domain=yd, anchor=xa, range=[0, Y_MAX[i]], tickmode="array",
                   tickvals=Y_TICKS[i], ticktext=Y_TICKTEXT[i], **axis_common),
    })

    # panel title
    annotations.append(dict(text=TITLES[i], xref="paper", yref="paper",
                            x=COL_X[c][0] / W, y=py(ROW_Y[r][0] - 30),
                            xanchor="left", yanchor="middle", showarrow=False,
                            font=dict(size=29, color="black", family=FONT)))
    # y axis title
    ycx = 20 if c == 0 else 598
    annotations.append(dict(text="Predicted mean count", xref="paper", yref="paper",
                            x=ycx / W, y=py((ROW_Y[r][0] + ROW_Y[r][1]) / 2),
                            xanchor="center", yanchor="middle", textangle=-90,
                            showarrow=False, font=dict(size=25, color="black", family=FONT)))

# Labels inside the Barn Swallow panel
LABELS = [("SLOPE", 1973.8, 15.45, COLORS["SLOPE"]),
          ("GAMYE", 1985.8, 16.1, COLORS["GAMYE"]),
          ("GAM", 1993.9, 14.2, COLORS["GAM"]),
          ("DIFFERENCE", 1999.3, 12.5, COLORS["DIFFERENCE"]),
          ("Observed mean counts", 1981.5, 8.13, "#999999"),
          ("Routes/50", 1984.9, 0.85, "#a8a8a8")]
LEADERS = [((1971.7, 14.86), (1970.2, 14.28), COLORS["SLOPE"]),
           ((1980.06, 15.85), (1980.06, 14.75), COLORS["GAMYE"]),
           ((1990.1, 13.8), (1989.0, 13.05), COLORS["GAM"]),
           ((1996.0, 11.95), (1994.4, 11.35), COLORS["DIFFERENCE"]),
           ((1969.9, 9.9), (1973.2, 8.8), "#999999")]
for txt, lx, ly, col in LABELS:
    annotations.append(dict(text=txt, x=lx, y=ly, xref="x", yref="y", showarrow=False,
                            xanchor="center", yanchor="middle",
                            font=dict(size=25, color=col, family=FONT)))
for (x0, y0), (x1, y1), col in LEADERS:
    shapes.append(dict(type="line", xref="x", yref="y", x0=x0, y0=y0, x1=x1, y1=y1,
                       line=dict(color=col, width=1.6)))

fig.update_layout(width=W, height=H, margin=dict(l=0, r=0, t=0, b=0),
                  paper_bgcolor="white", plot_bgcolor="white",
                  font=dict(family=FONT), annotations=annotations, shapes=shapes,
                  bargap=0, hovermode=False)

fig.write_html("out.html")
